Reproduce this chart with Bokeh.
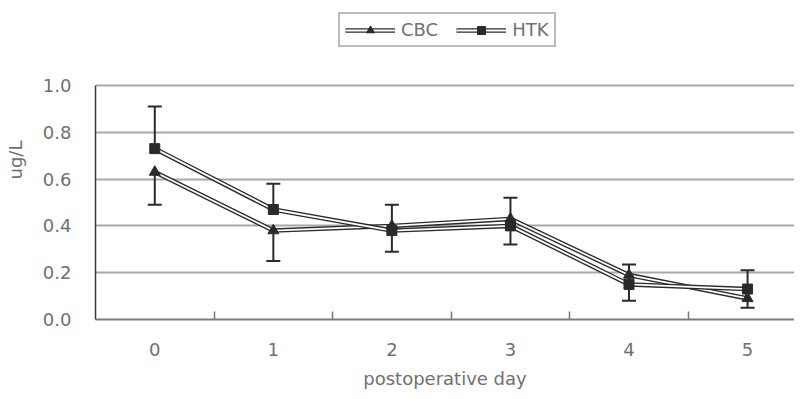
from bokeh.plotting import figure
from bokeh.models import (Range1d, FixedTicker, Legend, LegendItem, ColumnDataSource, Whisker)
from bokeh.embed import file_html
from bokeh.resources import INLINE

days = [0, 1, 2, 3, 4, 5]
day_labels = ["0", "1", "2", "3", "4", "5"]
cbc = [0.63, 0.38, 0.40, 0.43, 0.19, 0.09]
cbc_sd = [0.14, 0.13, 0.11, 0.11, 0.11, 0.04]
htk = [0.73, 0.47, 0.38, 0.40, 0.15, 0.13]
htk_sd = [0.18, 0.11, 0.11, 0.12, 0.085, 0.08]
y_ticks = [0.0, 0.2, 0.4, 0.6, 0.8, 1.0]
y_labels = ["0.0", "0.2", "0.4", "0.6", "0.8", "1.0"]

FONT = "DejaVu Sans"
FS = "18px"
TXT = "#707070"
DARK = "#2a2a2a"

p = figure(width=794, height=391, output_backend="svg", toolbar_location=None,
           x_range=Range1d(-0.5, 5.396), y_range=Range1d(0, 1.363),
           min_border_left=95, min_border_right=0, min_border_top=0, min_border_bottom=72)
p.outline_line_color = None
p.background_fill_color = "white"

# grid
p.xgrid.grid_line_color = None
p.ygrid.ticker = FixedTicker(ticks=y_ticks)
p.ygrid.grid_line_color = "#a8a8a8"
p.ygrid.grid_line_width = 2

# x axis
p.xaxis.ticker = FixedTicker(ticks=days, minor_ticks=[0.5, 1.5, 2.5, 3.5, 4.5])
p.xaxis.major_label_overrides = {d: l for d, l in zip(days, day_labels)}
p.xaxis.major_tick_in = 0
p.xaxis.major_tick_out = 0
p.xaxis.minor_tick_in = 8
p.xaxis.minor_tick_out = 0
p.xaxis.minor_tick_line_color = "#777777"
p.xaxis.minor_tick_line_width = 1.5
p.xaxis.axis_line_color = "#7a7a7a"
p.xaxis.axis_line_width = 2
p.xaxis.major_label_standoff = 23
p.xaxis.axis_label = "postoperative day"
p.xaxis.axis_label_standoff = 9

# y axis
p.yaxis.ticker = FixedTicker(ticks=y_ticks)
p.yaxis.bounds = (y_ticks[0], y_ticks[-1])
p.yaxis.major_label_overrides = {t: l for t, l in zip(y_ticks, y_labels)}
p.yaxis.major_tick_in = 0
p.yaxis.major_tick_out = 0
p.yaxis.minor_tick_line_color = None
p.yaxis.axis_line_color = "#3a3a3a"
p.yaxis.axis_line_width = 1.5
p.yaxis.major_label_standoff = 24
p.yaxis.axis_label = "ug/L"
p.yaxis.axis_label_standoff = 14

for ax in (p.xaxis[0], p.yaxis[0]):
    ax.major_label_text_font = FONT
    ax.major_label_text_font_size = FS
    ax.major_label_text_color = TXT
    ax.axis_label_text_font = FONT
    ax.axis_label_text_font_size = FS
    ax.axis_label_text_font_style = "normal"
    ax.axis_label_text_color = TXT

# error bars
src_c = ColumnDataSource(dict(x=days, base=cbc, low=[v - s for v, s in zip(cbc, cbc_sd)]))
src_h = ColumnDataSource(dict(x=days, base=htk, up=[v + s for v, s in zip(htk, htk_sd)]))
wc = Whisker(source=src_c, base="x", upper="base", lower="low", dimension="height",
             line_color=DARK, line_width=2)
wc.upper_head = None
wc.lower_head.size = 14
wc.lower_head.line_color = DARK
wc.lower_head.line_width = 2
wh = Whisker(source=src_h, base="x", upper="up", lower="base", dimension="height",
             line_color=DARK, line_width=2)
wh.lower_head = None
wh.upper_head.size = 14
wh.upper_head.line_color = DARK
wh.upper_head.line_width = 2
p.add_layout(wc)
p.add_layout(wh)

# lines (double-line style)
c_dark = p.line(days, cbc, line_color=DARK, line_width=4.5)
c_white = p.line(days, cbc, line_color="white", line_width=1.8)
h_dark = p.line(days, htk, line_color=DARK, line_width=4.5)
h_white = p.line(days, htk, line_color="white", line_width=1.8)
c_mark = p.scatter(days, cbc, marker="triangle", size=11, fill_color=DARK, line_color=DARK)
h_mark = p.scatter(days, htk, marker="square", size=10, fill_color=DARK, line_color=DARK)

legend = Legend(items=[
    LegendItem(label="CBC", renderers=[c_dark, c_white, c_mark]),
    LegendItem(label="HTK", renderers=[h_dark, h_white, h_mark]),
], location=(243, 272), orientation="horizontal")
legend.label_text_font = FONT
legend.label_text_font_size = FS
legend.label_text_color = TXT
legend.label_height = 20
legend.glyph_width = 50
legend.glyph_height = 20
legend.label_standoff = 6
legend.spacing = 18
legend.padding = 5
legend.margin = 0
legend.border_line_color = "#777777"
legend.border_line_width = 2
legend.background_fill_alpha = 1
p.add_layout(legend, "center")

open("out.html", "w").write(file_html(p, INLINE))
